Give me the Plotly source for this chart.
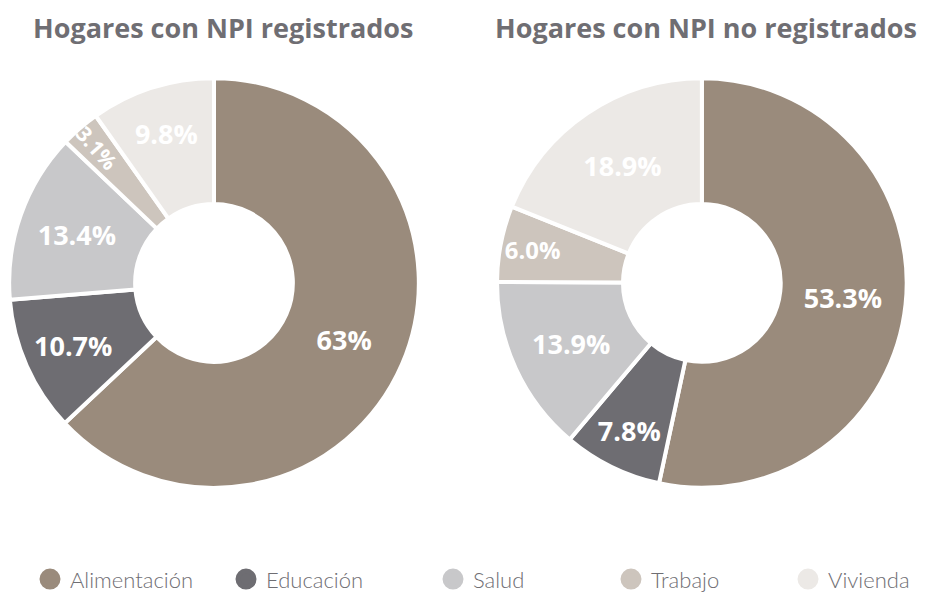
import plotly.graph_objects as go

categories = ["Alimentación", "Educación", "Salud", "Trabajo", "Vivienda"]
registrados = [63.0, 10.7, 13.4, 3.1, 9.8]
registrados_labels = ["63%", "10.7%", "13.4%", "3.1%", "9.8%"]
no_registrados = [53.3, 7.8, 13.9, 6.0, 18.9]
no_registrados_labels = ["53.3%", "7.8%", "13.9%", "6.0%", "18.9%"]
titles = ["Hogares con NPI registrados", "Hogares con NPI no registrados"]

colors = ["#9a8b7c", "#6e6d72", "#c8c8ca", "#cdc5bd", "#ece9e6"]
FONT = "Open Sans"
GREY = "#6f6e73"
W, H = 929, 592

fig = go.Figure()

def add_pie(values, texts, domain_x, orient):
    fig.add_trace(go.Pie(
        labels=categories, values=values, text=texts,
        textinfo="text", textposition="inside",
        insidetextorientation=orient,
        hole=0.385, sort=False, direction="clockwise", rotation=0,
        marker=dict(colors=colors, line=dict(color="white", width=4)),
        textfont=dict(family=FONT, size=27, color="white", weight="bold"),
        domain=dict(x=domain_x, y=[0.176, 0.868]),
        showlegend=False, hoverinfo="label+text",
    ))

add_pie(registrados, registrados_labels, [0.0097, 0.451], "auto")
add_pie(no_registrados, no_registrados_labels, [0.535, 0.976], "horizontal")

# one legend per category, so each entry can sit where the reference puts it
legend_left_px = [30, 226, 433, 611, 788]
legend_layout = {}
for i, (cat, col) in enumerate(zip(categories, colors)):
    lname = "legend" if i == 0 else f"legend{i + 1}"
    fig.add_trace(go.Scatter(
        x=[None], y=[None], mode="markers", name=cat, legend=lname,
        marker=dict(symbol="circle", size=16, color=col, line=dict(color=col, width=5)),
        showlegend=True,
    ))
    legend_layout[lname] = dict(
        orientation="h", x=legend_left_px[i] / W, y=-0.014,
        xanchor="left", yanchor="bottom", bgcolor="rgba(0,0,0,0)",
        font=dict(family="Lato", size=22, color=GREY, weight=300),
        itemclick=False, itemdoubleclick=False,
    )

for title, xc in zip(titles, [0.240, 0.760]):
    fig.add_annotation(text=title, x=xc, y=0.953, xref="paper", yref="paper",
                       xanchor="center", yanchor="middle", showarrow=False,
                       font=dict(family=FONT, size=27, color=GREY, weight="bold"))

fig.update_layout(
    width=W, height=H,
    margin=dict(l=0, r=0, t=0, b=0, autoexpand=False),
    paper_bgcolor="white", plot_bgcolor="white",
    xaxis=dict(visible=False), yaxis=dict(visible=False),
    **legend_layout,
)

fig.write_html("out.html", config={"displayModeBar": False},
               post_script="document.body.style.margin='0';")
